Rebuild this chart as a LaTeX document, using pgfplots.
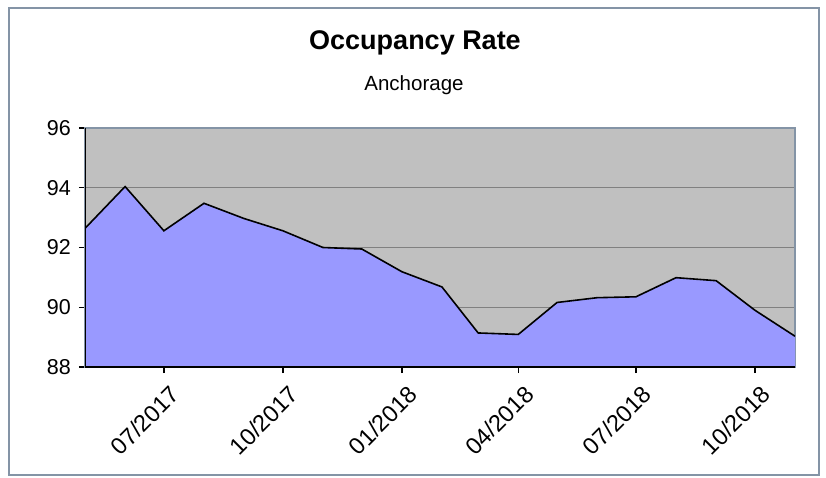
\documentclass[border=0pt]{standalone}
\usepackage{pgfplots}
\pgfplotsset{compat=1.18}
\usepackage{fontspec}
\setmainfont{Liberation Sans}
\definecolor{bgc}{HTML}{C0C0C0}
\definecolor{areac}{HTML}{9999FF}
\definecolor{framec}{HTML}{8494A6}
\definecolor{gridc}{HTML}{808080}
\begin{document}
\begin{tikzpicture}[x=1pt,y=1pt]
\useasboundingbox (0,0) rectangle (826,477);
\draw[framec, line width=2pt] (9,2) rectangle (819,469);
\node[font=\fontsize{27}{30}\selectfont\bfseries, anchor=base] at (415,427) {Occupancy Rate};
\node[font=\fontsize{20.5}{23}\selectfont, anchor=base] at (414,386) {Anchorage};
\begin{axis}[
  at={(85pt,110pt)}, anchor=south west,
  scale only axis, width=710pt, height=239pt,
  xmin=0, xmax=549, ymin=88, ymax=96,
  axis background/.style={fill=bgc},
  axis line style={draw=framec, line width=1.2pt},
  xtick={61,153,245,335,426,518},
  xticklabels={07/2017,10/2017,01/2018,04/2018,07/2018,10/2018},
  ytick={88,90,92,94,96},
  ymajorgrids, grid style={gridc, line width=1.3pt},
  tick align=outside, xtick pos=bottom, ytick pos=left,
  major tick length=6pt,
  tick style={black, line width=1.3pt},
  /pgf/number format/assume math mode=true,
  yticklabel style={font=\fontsize{21.5}{24}\selectfont, inner sep=0pt, xshift=-8pt},
  xticklabel style={font=\fontsize{23.5}{26}\selectfont, inner sep=0pt, xshift=5pt, yshift=-11pt, rotate=45, anchor=north east},
  clip=true,
]
\addplot[fill=areac, draw=none] coordinates {
(0,92.64) (31,94.04) (61,92.56) (92,93.48) (123,92.97) (153,92.56) (184,92.00) (214,91.95) (245,91.19) (276,90.68) (304,89.14) (335,89.09) (365,90.16) (396,90.32) (426,90.35) (457,90.99) (488,90.89) (518,89.90) (549,89.03)
} \closedcycle;
\addplot[black, line width=1.6pt, mark=none] coordinates {
(0,92.64) (31,94.04) (61,92.56) (92,93.48) (123,92.97) (153,92.56) (184,92.00) (214,91.95) (245,91.19) (276,90.68) (304,89.14) (335,89.09) (365,90.16) (396,90.32) (426,90.35) (457,90.99) (488,90.89) (518,89.90) (549,89.03)
};
\draw[black, line width=2pt] (rel axis cs:0,1) -- (rel axis cs:0,0) -- (rel axis cs:1,0);
\end{axis}
\end{tikzpicture}
\end{document}
